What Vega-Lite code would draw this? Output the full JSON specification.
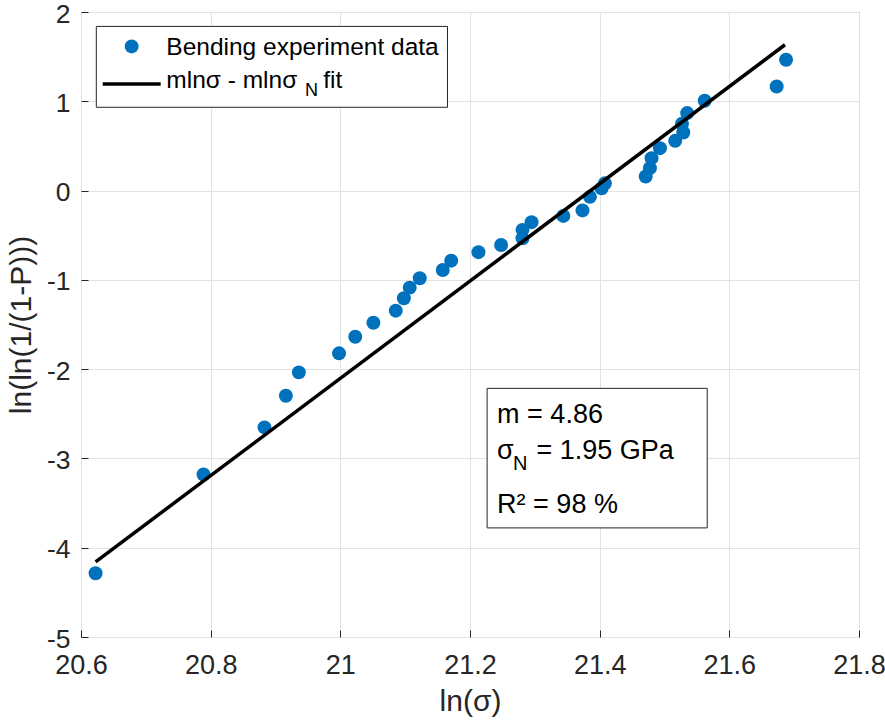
{
  "$schema": "https://vega.github.io/schema/vega-lite/v6.json",
  "width": 778,
  "height": 625,
  "autosize": {"type": "none"},
  "padding": {"left": 81, "top": 12, "right": 26, "bottom": 89},
  "background": "white",
  "config": {
    "view": {"stroke": "#262626", "strokeWidth": 1},
    "font": "Liberation Sans",
    "axis": {
      "labelFont": "Liberation Sans",
      "labelFontSize": 27,
      "labelColor": "#262626",
      "titleFont": "Liberation Sans",
      "titleFontSize": 30,
      "titleFontWeight": "normal",
      "titleColor": "#262626",
      "gridColor": "#e2e2e2",
      "gridWidth": 1,
      "domain": false,
      "tickColor": "#262626",
      "tickSize": -7,
      "tickWidth": 1
    }
  },
  "datasets": {
    "points": [
      {"x": 20.6225, "y": -4.286},
      {"x": 20.789, "y": -3.18},
      {"x": 20.883, "y": -2.652},
      {"x": 20.916, "y": -2.298},
      {"x": 20.936, "y": -2.036},
      {"x": 20.998, "y": -1.823},
      {"x": 21.023, "y": -1.637},
      {"x": 21.051, "y": -1.48},
      {"x": 21.0855, "y": -1.345},
      {"x": 21.098, "y": -1.206},
      {"x": 21.107, "y": -1.087},
      {"x": 21.1225, "y": -0.982},
      {"x": 21.158, "y": -0.889},
      {"x": 21.171, "y": -0.785},
      {"x": 21.213, "y": -0.69},
      {"x": 21.248, "y": -0.609},
      {"x": 21.281, "y": -0.534},
      {"x": 21.281, "y": -0.44},
      {"x": 21.295, "y": -0.354},
      {"x": 21.344, "y": -0.284},
      {"x": 21.3735, "y": -0.2225},
      {"x": 21.385, "y": -0.07},
      {"x": 21.403, "y": 0.0245},
      {"x": 21.408, "y": 0.081},
      {"x": 21.471, "y": 0.157},
      {"x": 21.4775, "y": 0.251},
      {"x": 21.48, "y": 0.363},
      {"x": 21.493, "y": 0.475},
      {"x": 21.5165, "y": 0.557},
      {"x": 21.529, "y": 0.65},
      {"x": 21.527, "y": 0.748},
      {"x": 21.535, "y": 0.868},
      {"x": 21.562, "y": 1.006},
      {"x": 21.673, "y": 1.166},
      {"x": 21.6875, "y": 1.465}
    ],
    "fit": [
      {"x": 20.6225, "y": -4.159},
      {"x": 21.6858, "y": 1.633}
    ]
  },
  "layer": [
    {
      "data": {"name": "points"},
      "mark": {"type": "circle", "size": 195, "color": "#0072BD", "opacity": 1},
      "encoding": {
        "x": {
          "field": "x", "type": "quantitative",
          "scale": {"domain": [20.6, 21.8], "nice": false, "zero": false},
          "axis": {
            "title": "ln(σ)",
            "values": [20.6, 20.8, 21, 21.2, 21.4, 21.6, 21.8],
            "labelExpr": "'' + datum.value",
            "labelPadding": 22,
            "titlePadding": 8,
            "labelFlush": false
          }
        },
        "y": {
          "field": "y", "type": "quantitative",
          "scale": {"domain": [-5, 2], "nice": false, "zero": false},
          "axis": {
            "title": "ln(ln(1/(1-P)))",
            "values": [-5, -4, -3, -2, -1, 0, 1, 2],
            "labelExpr": "'' + datum.value",
            "labelFontSize": 26.5,
            "labelPadding": 18,
            "labelOffset": 2,
            "titlePadding": 10,
            "labelFlush": false
          }
        }
      }
    },
    {
      "data": {"name": "fit"},
      "mark": {"type": "line", "color": "black", "strokeWidth": 3.5},
      "encoding": {
        "x": {"field": "x", "type": "quantitative"},
        "y": {"field": "y", "type": "quantitative"}
      }
    },
    {
      "data": {"values": [{}]},
      "layer": [
        {
          "mark": {"type": "rect", "fill": "white", "stroke": "#262626", "strokeWidth": 1},
          "encoding": {
            "x": {"datum": 20.6236, "type": "quantitative"},
            "x2": {"datum": 21.1653},
            "y": {"datum": 1.8386, "type": "quantitative"},
            "y2": {"datum": 0.9327}
          }
        },
        {
          "mark": {"type": "circle", "size": 195, "color": "#0072BD", "opacity": 1},
          "encoding": {
            "x": {"datum": 20.6781, "type": "quantitative"},
            "y": {"datum": 1.6143, "type": "quantitative"}
          }
        },
        {
          "mark": {"type": "rule", "color": "black", "strokeWidth": 3.5},
          "encoding": {
            "x": {"datum": 20.6335, "type": "quantitative"},
            "x2": {"datum": 20.7229},
            "y": {"datum": 1.195, "type": "quantitative"}
          }
        },
        {
          "mark": {"type": "text", "text": "Bending experiment data", "align": "left", "baseline": "alphabetic", "fontSize": 24.5, "font": "Liberation Sans", "color": "black"},
          "encoding": {
            "x": {"datum": 20.7316, "type": "quantitative"},
            "y": {"datum": 1.5213, "type": "quantitative"}
          }
        },
        {
          "mark": {"type": "text", "text": "mlnσ - mlnσ", "align": "left", "baseline": "alphabetic", "fontSize": 24.5, "font": "Liberation Sans", "color": "black"},
          "encoding": {
            "x": {"datum": 20.7316, "type": "quantitative"},
            "y": {"datum": 1.148, "type": "quantitative"}
          }
        },
        {
          "mark": {"type": "text", "text": "N", "align": "left", "baseline": "alphabetic", "fontSize": 18, "font": "Liberation Sans", "color": "black"},
          "encoding": {
            "x": {"datum": 20.9455, "type": "quantitative"},
            "y": {"datum": 1.0617, "type": "quantitative"}
          }
        },
        {
          "mark": {"type": "text", "text": "fit", "align": "left", "baseline": "alphabetic", "fontSize": 24.5, "font": "Liberation Sans", "color": "black"},
          "encoding": {
            "x": {"datum": 20.9735, "type": "quantitative"},
            "y": {"datum": 1.148, "type": "quantitative"}
          }
        },
        {
          "mark": {"type": "rect", "fill": "white", "stroke": "#262626", "strokeWidth": 1},
          "encoding": {
            "x": {"datum": 21.2264, "type": "quantitative"},
            "x2": {"datum": 21.5659},
            "y": {"datum": -2.2152, "type": "quantitative"},
            "y2": {"datum": -3.778}
          }
        },
        {
          "mark": {"type": "text", "text": "m = 4.86", "align": "left", "baseline": "alphabetic", "fontSize": 27, "font": "Liberation Sans", "color": "black"},
          "encoding": {
            "x": {"datum": 21.2418, "type": "quantitative"},
            "y": {"datum": -2.6076, "type": "quantitative"}
          }
        },
        {
          "mark": {"type": "text", "text": "σ", "align": "left", "baseline": "alphabetic", "fontSize": 27, "font": "Liberation Sans", "color": "black"},
          "encoding": {
            "x": {"datum": 21.2418, "type": "quantitative"},
            "y": {"datum": -3.008, "type": "quantitative"}
          }
        },
        {
          "mark": {"type": "text", "text": "N", "align": "left", "baseline": "alphabetic", "fontSize": 20, "font": "Liberation Sans", "color": "black"},
          "encoding": {
            "x": {"datum": 21.2665, "type": "quantitative"},
            "y": {"datum": -3.131, "type": "quantitative"}
          }
        },
        {
          "mark": {"type": "text", "text": "= 1.95 GPa", "align": "left", "baseline": "alphabetic", "fontSize": 27, "font": "Liberation Sans", "color": "black"},
          "encoding": {
            "x": {"datum": 21.3026, "type": "quantitative"},
            "y": {"datum": -3.008, "type": "quantitative"}
          }
        },
        {
          "mark": {"type": "text", "text": "R² = 98 %", "align": "left", "baseline": "alphabetic", "fontSize": 27, "font": "Liberation Sans", "color": "black"},
          "encoding": {
            "x": {"datum": 21.2418, "type": "quantitative"},
            "y": {"datum": -3.6166, "type": "quantitative"}
          }
        }
      ]
    }
  ]
}
